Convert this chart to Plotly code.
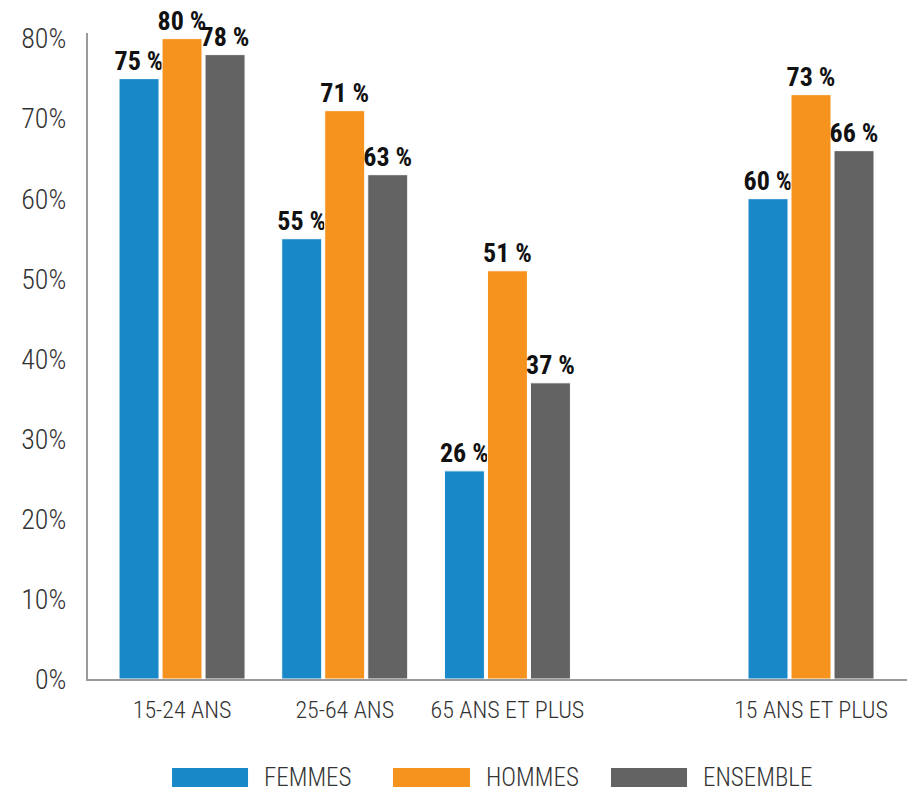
import plotly.graph_objects as go

categories = ["15-24 ANS", "25-64 ANS", "65 ANS ET PLUS", "15 ANS ET PLUS"]
cat_pos = [0, 1, 2, 3.866]  # last group set apart, as in the reference
series_names = ["FEMMES", "HOMMES", "ENSEMBLE"]
femmes = [75, 55, 26, 60]
hommes = [80, 71, 51, 73]
ensemble = [78, 63, 37, 66]
y_ticks = [0, 10, 20, 30, 40, 50, 60, 70, 80]
y_tick_labels = [f"{v}%" for v in y_ticks]

colors = ["#1888C9", "#F6931E", "#636363"]
FONT = "Roboto Condensed, Liberation Sans Narrow, DejaVu Sans Condensed, Arial Narrow, sans-serif"

fig = go.Figure()
for name, vals, col in zip(series_names, [femmes, hommes, ensemble], colors):
    fig.add_trace(go.Bar(
        x=cat_pos, y=vals, name=name,
        marker=dict(color=col, line=dict(color="white", width=1)),
        text=[f"{v} %" for v in vals],
        textposition="outside",
        constraintext="none",
        cliponaxis=False,
        textfont=dict(family=FONT, size=26, color="#111111", weight="bold"),
        showlegend=False,
        hoverinfo="skip",
    ))

fig.update_layout(
    width=910, height=792,
    margin=dict(l=88, r=3, t=33, b=113),
    paper_bgcolor="white", plot_bgcolor="white",
    barmode="group", bargap=0.207, bargroupgap=0.07,
    font=dict(family=FONT, color="#333333"),
    xaxis=dict(
        range=[-0.578, 4.456],
        tickmode="array", tickvals=cat_pos, ticktext=categories,
        tickfont=dict(size=24, color="#333333", weight=300),
        showline=True, linecolor="#9a9a9a", linewidth=2,
        showgrid=False, zeroline=False, ticks="",
        ticklabelstandoff=8,
    ),
    yaxis=dict(
        range=[0, 80.7],
        tickmode="array", tickvals=y_ticks, ticktext=y_tick_labels,
        tickfont=dict(size=28, color="#333333", weight=300),
        showline=True, linecolor="#9a9a9a", linewidth=2,
        showgrid=False, zeroline=False, ticks="",
        ticklabelstandoff=14,
    ),
)

# Custom legend (wide colour swatches below the chart)
swatch_x = [(0.1026, 0.1954), (0.3724, 0.4664), (0.6386, 0.7314)]
for (x0, x1), col, name in zip(swatch_x, colors, series_names):
    fig.add_shape(type="rect", xref="paper", yref="paper",
                  x0=x0, x1=x1, y0=-0.1672, y1=-0.1378,
                  fillcolor=col, line=dict(color=col, width=0))
    fig.add_annotation(xref="paper", yref="paper", x=x1 + 0.017, y=-0.1525,
                       text=name, showarrow=False, xanchor="left", yanchor="middle",
                       font=dict(family=FONT, size=25, color="#333333", weight=300))

fig.write_html("out.html", config={"displayModeBar": False},
               post_script="document.body.style.margin='0';document.body.style.padding='0';")
